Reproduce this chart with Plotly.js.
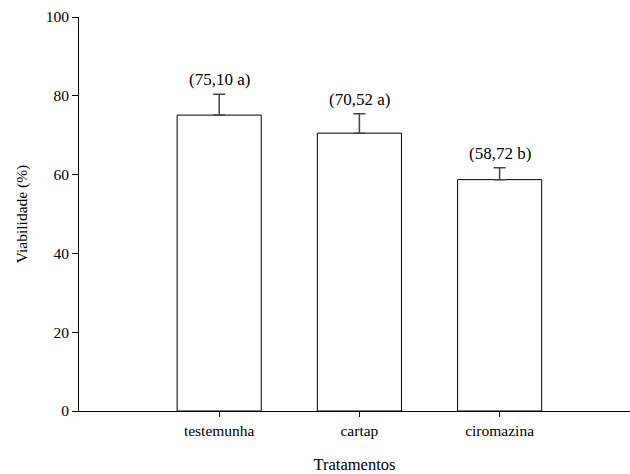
<!DOCTYPE html>
<html>
<head>
<meta charset="utf-8">
<script src="https://cdn.plot.ly/plotly-3.0.1.min.js"></script>
<style>html,body{margin:0;padding:0;background:#fff;}</style>
</head>
<body>
<div id="chart" style="width:630px;height:474px;"></div>
<script>
const categories = ["testemunha", "cartap", "ciromazina"];
const viabilidade = [75.10, 70.52, 58.72];
const erro = [5.3, 4.9, 3.0];
const rotulos = ["(75,10 a)", "(70,52 a)", "(58,72 b)"];
const yTicks = [0, 20, 40, 60, 80, 100];

const xPos = categories.map((c, i) => i + 1);
const FONT = "Liberation Serif";

const trace = {
  type: "bar",
  x: xPos,
  y: viabilidade,
  width: 0.6,
  marker: {color: "#ffffff", line: {color: "#000000", width: 1}},
  error_y: {
    type: "data", symmetric: false,
    array: erro, arrayminus: erro.map(() => 0),
    color: "#444444", thickness: 1.5, width: 6
  },
  hoverinfo: "none"
};

const annotations = xPos.map((x, i) => ({
  x: x, y: viabilidade[i] + erro[i], xref: "x", yref: "y",
  text: rotulos[i], showarrow: false, yanchor: "bottom", yshift: 3,
  font: {family: FONT, size: 17, color: "#000"}
}));

const layout = {
  width: 630, height: 474,
  margin: {l: 79, r: 0, t: 17, b: 63},
  paper_bgcolor: "#fff", plot_bgcolor: "#fff",
  showlegend: false,
  font: {family: FONT, size: 15.5, color: "#000"},
  xaxis: {
    range: [0, 3.93],
    tickmode: "array", tickvals: xPos, ticktext: categories,
    ticks: "outside", ticklen: 5, tickcolor: "#000", tickwidth: 1,
    showline: true, linecolor: "#000", linewidth: 1,
    showgrid: false, zeroline: false,
    tickfont: {family: FONT, size: 15.5},
    title: {text: "Tratamentos", font: {family: FONT, size: 16.5}, standoff: 21}
  },
  yaxis: {
    range: [0, 100],
    tickmode: "array", tickvals: yTicks,
    ticks: "outside", ticklen: 6, tickcolor: "#000", tickwidth: 1,
    showline: true, linecolor: "#000", linewidth: 1,
    showgrid: false, zeroline: false,
    tickfont: {family: FONT, size: 15.5},
    title: {text: "Viabilidade (%)", font: {family: FONT, size: 15.5}, standoff: 14}
  },
  annotations: annotations
};

Plotly.newPlot("chart", [trace], layout, {displayModeBar: false, staticPlot: true});
</script>
</body>
</html>
